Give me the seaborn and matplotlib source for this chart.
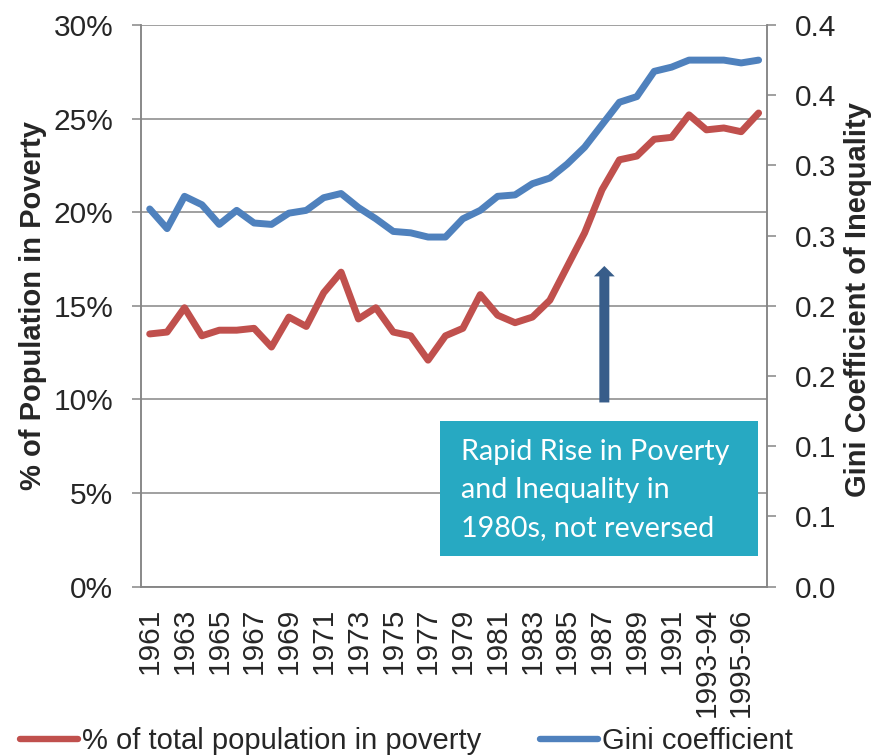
import numpy as np
import pandas as pd
import matplotlib
matplotlib.use("Agg")
import matplotlib.pyplot as plt
import seaborn as sns
from matplotlib.patches import FancyArrowPatch, Rectangle, ArrowStyle

# ---------------- data ----------------
periods = [str(y) for y in range(1961, 1993)] + ["1993-94", "1994-95", "1995-96", "1996-97"]

poverty_pct = [13.5, 13.6, 14.9, 13.4, 13.7, 13.7, 13.8, 12.8, 14.4, 13.9,
               15.7, 16.8, 14.3, 14.9, 13.6, 13.4, 12.1, 13.4, 13.8,
               15.6, 14.5, 14.1, 14.4, 15.3, 17.1, 18.9, 21.2, 22.8, 23.0,
               23.9, 24.0, 25.2, 24.4, 24.5, 24.3, 25.3]

gini = [0.269, 0.255, 0.278, 0.272, 0.258, 0.268, 0.259, 0.258, 0.266, 0.268,
        0.277, 0.280, 0.270, 0.262, 0.253, 0.252, 0.249, 0.249,
        0.262, 0.268, 0.278, 0.279, 0.287, 0.291, 0.301, 0.313, 0.329, 0.345,
        0.349, 0.367, 0.370, 0.375, 0.375, 0.375, 0.373, 0.375]

left_ticks = [0, 5, 10, 15, 20, 25, 30]
left_labels = ["0%", "5%", "10%", "15%", "20%", "25%", "30%"]
right_ticks = [0.0, 0.05, 0.10, 0.15, 0.20, 0.25, 0.30, 0.35, 0.40]
right_labels = ["0.0", "0.1", "0.1", "0.2", "0.2", "0.3", "0.3", "0.4", "0.4"]

series_names = ["% of total population in poverty", "Gini coefficient"]
annotation_lines = ["Rapid Rise in Poverty", "and Inequality in", "1980s, not reversed"]

# ---------------- style ----------------
RED = "#C0504D"
BLUE = "#4F81BD"
GRAY = "#868686"
ARROW = "#385D8A"
BOX = "#27A9C2"

sns.set_style("white")
plt.rcParams["font.family"] = ["Liberation Sans", "DejaVu Sans"]

df = pd.DataFrame({"period": periods,
                   "pos": np.arange(len(periods)),
                   "poverty": poverty_pct,
                   "gini": gini})

W, H, DPI = 877, 756, 100
fig = plt.figure(figsize=(W / DPI, H / DPI), dpi=DPI)
L, R, T, B = 141 / W, 767.3 / W, 1 - 25 / H, 1 - 586.7 / H
ax = fig.add_axes([L, B, R - L, T - B])
ax2 = ax.twinx()

LW = 5.0
sns.lineplot(data=df, x="pos", y="poverty", ax=ax, color=RED, lw=LW,
             label=series_names[0], legend=False)
sns.lineplot(data=df, x="pos", y="gini", ax=ax2, color=BLUE, lw=LW,
             label=series_names[1], legend=False)
for a in (ax, ax2):
    for ln in a.get_lines():
        ln.set_solid_capstyle("round")
        ln.set_solid_joinstyle("round")

n = len(periods)
ax.set_xlim(-0.5, n - 0.5)
ax.set_ylim(0, 30)
ax2.set_ylim(0, 0.4)

# grid
ax.set_yticks(left_ticks)
ax.set_yticklabels(left_labels)
ax.yaxis.grid(True, color=GRAY, lw=1.1)
ax.xaxis.grid(False)
ax2.grid(False)
ax.set_axisbelow(True)

ax2.set_yticks(right_ticks)
ax2.set_yticklabels(right_labels)

# x ticks: labels every other category at centres, tick marks at boundaries
ax.set_xticks(df["pos"].values[::2])
ax.set_xticklabels(df["period"].values[::2], rotation=90)
ax.set_xticks(np.arange(-0.5, n, 1.0), minor=True)
ax.tick_params(axis="x", which="major", length=0, pad=15, labelsize=21.5)
ax.tick_params(axis="x", which="minor", length=6.5, width=1.1, color=GRAY, direction="out")
ax.tick_params(axis="y", which="major", length=6.5, width=1.1, color=GRAY,
               direction="out", pad=13.5, labelsize=21.5)
ax2.tick_params(axis="y", which="major", length=6.5, width=1.1, color=GRAY,
                direction="out", pad=13.5, labelsize=21.5)
ax.set_xlabel("")
ax.set_ylabel("")
ax2.set_ylabel("")

for a in (ax, ax2):
    a.spines["top"].set_visible(False)
    for s in ("left", "right", "bottom"):
        a.spines[s].set_color(GRAY)
        a.spines[s].set_linewidth(1.1)

# axis titles
fig.text(33 / W, 1 - 305 / H, "% of Population in Poverty", rotation=90,
         ha="center", va="center", fontsize=21, fontweight="bold")
fig.text(858 / W, 1 - 300 / H, "Gini Coefficient of Inequality", rotation=90,
         ha="center", va="center", fontsize=21, fontweight="bold")

# annotation arrow
arrow = FancyArrowPatch((0.7398, 0.328), (0.7398, 0.571), transform=ax2.transAxes,
                        arrowstyle=ArrowStyle.Simple(head_length=7.5, head_width=15, tail_width=7.2),
                        mutation_scale=1, color=ARROW, lw=0, shrinkA=0, shrinkB=0,
                        zorder=10)
ax2.add_patch(arrow)

# annotation box
bx0, bx1 = (440 - 141) / 626.3, (758.3 - 141) / 626.3
by0, by1 = (587 - 556.7) / 562, (587 - 421) / 562
ax2.add_patch(Rectangle((bx0, by0), bx1 - bx0, by1 - by0, transform=ax2.transAxes,
                        facecolor=BOX, edgecolor="none", zorder=10))
baselines = [460, 498.3, 536.7]
txts = []
for line, yb in zip(annotation_lines, baselines):
    t = ax2.text((460.7 - 141) / 626.3, (587 - yb) / 562, line, transform=ax2.transAxes,
                 ha="left", va="baseline", color="white", fontsize=20,
                 family=["Lato", "DejaVu Sans"], zorder=11)
    txts.append(t)
# fit first line width to the target width (269 px)
fig.canvas.draw()
r = fig.canvas.get_renderer()
w0 = txts[0].get_window_extent(r).width
fs = 20 * 269 / w0
for t in txts:
    t.set_fontsize(fs)

# legend
h1 = ax.get_lines()[0]
h2 = ax2.get_lines()[0]
leg = fig.legend([h1, h2], series_names, loc="center left",
                 bbox_to_anchor=(20 / W, 1 - 741 / H), ncol=2, frameon=False,
                 fontsize=21, handlelength=2.0, handletextpad=0.13,
                 columnspacing=2.0, borderpad=0, borderaxespad=0)
for ln in leg.get_lines():
    ln.set_linewidth(4.6)
    ln.set_solid_capstyle("round")

fig.savefig("out.png", dpi=DPI)
